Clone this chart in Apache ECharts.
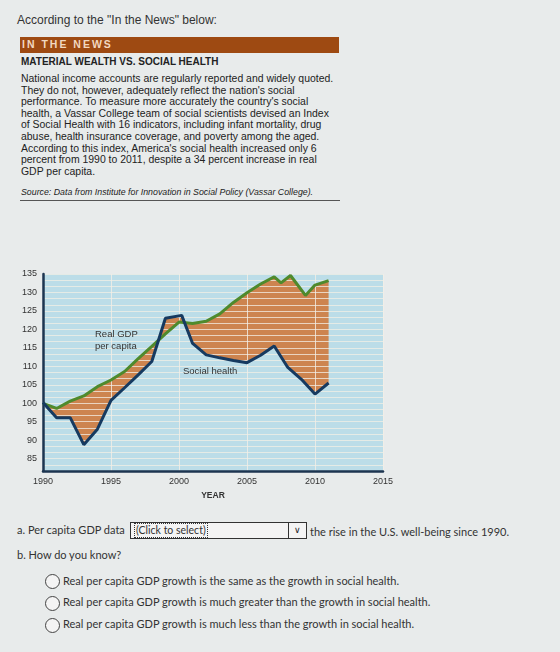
<!DOCTYPE html>
<html>
<head>
<meta charset="utf-8">
<script src="https://cdn.jsdelivr.net/npm/echarts@6/dist/echarts.min.js"></script>
<style>
  body { margin: 0; width: 560px; height: 652px; background: #e8ebeb; position: relative; overflow: hidden;
         font-family: "Liberation Sans", Arial, sans-serif; color: #222; }
  .abs { position: absolute; white-space: nowrap; }
  #intro { left: 17px; top: 13px; font-size: 12px; color: #333; }
  #bar { left: 20px; top: 37px; width: 319px; height: 16px; background: #9e4a12; }
  #bar span { position: absolute; left: 2px; top: 1px; font-size: 10.5px; color: #f2d8c0; letter-spacing: 2px; font-weight: bold; }
  #title { left: 21px; top: 56px; font-size: 10px; font-weight: bold; color: #222; }
  #para { left: 21px; top: 73px; font-size: 10.45px; line-height: 11.6px; color: #222; }
  #src { left: 21px; top: 187px; font-size: 8.8px; font-style: italic; color: #222; }
  #rule { left: 20px; top: 200px; width: 320px; height: 1px; background: #555; }
  #chart { left: 0; top: 255px; width: 400px; height: 250px; }
  .q { font-family: Lato, "Open Sans", sans-serif; font-size: 11px; color: #333; }
  #qa { left: 17px; top: 523px; }
  #sel { left: 130px; top: 522px; width: 175px; height: 15px; border: 1px solid #333; background: #f4f4f4; }
  #sel span { position: absolute; left: 3px; top: 0px; font-size: 10.5px; border: 1px dotted #333; padding: 0 1px; line-height: 13px; }
  #sel i { position: absolute; right: 0; top: 0; width: 17px; height: 15px; border-left: 1px solid #333; font-style: normal; font-size: 9px; text-align: center; line-height: 15px; }
  #qa2 { left: 310px; top: 525px; }
  #qb { left: 17px; top: 548px; }
  .radio { width: 13px; height: 13px; border: 1px solid #444; border-radius: 50%; background: #f4f4f4; }
</style>
</head>
<body>
<div class="abs" id="intro">According to the "In the News" below:</div>
<div class="abs" id="bar"><span>IN THE NEWS</span></div>
<div class="abs" id="title">MATERIAL WEALTH VS. SOCIAL HEALTH</div>
<div class="abs" id="para">National income accounts are regularly reported and widely quoted.<br>They do not, however, adequately reflect the nation's social<br>performance. To measure more accurately the country's social<br>health, a Vassar College team of social scientists devised an Index<br>of Social Health with 16 indicators, including infant mortality, drug<br>abuse, health insurance coverage, and poverty among the aged.<br>According to this index, America's social health increased only 6<br>percent from 1990 to 2011, despite a 34 percent increase in real<br>GDP per capita.</div>
<div class="abs" id="src">Source: Data from Institute for Innovation in Social Policy (Vassar College).</div>
<div class="abs" id="rule"></div>
<div class="abs" id="chart"></div>
<div class="abs q" id="qa">a. Per capita GDP data</div>
<div class="abs" id="sel"><span class="q">(Click to select)</span><i>&#8744;</i></div>
<div class="abs q" id="qa2">the rise in the U.S. well-being since 1990.</div>
<div class="abs q" id="qb">b. How do you know?</div>
<div class="abs radio" style="left:45px;top:574px"></div>
<div class="abs q" style="left:63px;top:574px">Real per capita GDP growth is the same as the growth in social health.</div>
<div class="abs radio" style="left:45px;top:596px"></div>
<div class="abs q" style="left:63px;top:595px">Real per capita GDP growth is much greater than the growth in social health.</div>
<div class="abs radio" style="left:45px;top:618px"></div>
<div class="abs q" style="left:63px;top:617px">Real per capita GDP growth is much less than the growth in social health.</div>
<script>
// 数据
var gdpYears = [1990, 1991, 1992, 1993, 1994, 1995, 1996, 1997, 1998, 1999, 2000, 2001, 2002, 2003, 2004, 2005, 2006, 2007, 2007.5, 2008.2, 2009.3, 2010, 2011];
var gdpValues = [100, 98.6, 100.6, 102, 104.5, 106.3, 108.6, 112.1, 115.4, 118.8, 122, 121.6, 122.2, 124.2, 127.3, 129.9, 132.3, 134.2, 132.6, 134.6, 129.2, 132, 133.2];
var shYears = [1990, 1991, 1992, 1993, 1994, 1995, 1996, 1997, 1998, 1999, 2000.2, 2001, 2002, 2003, 2004, 2005, 2006, 2007, 2008, 2009, 2010, 2011];
var shValues = [100.2, 96.1, 96.1, 88.8, 93, 100.8, 104.2, 107.7, 111.3, 123, 123.8, 116.2, 113.1, 112.3, 111.6, 111, 113, 115.5, 109.7, 106.5, 102.5, 105.5];
var yearTicks = [1990, 1995, 2000, 2005, 2010, 2015];

var gdpData = gdpYears.map(function (y, i) { return [y, gdpValues[i]]; });
var shData = shYears.map(function (y, i) { return [y, shValues[i]]; });

var chart = echarts.init(document.getElementById('chart'));
chart.setOption({
  animation: false,
  grid: {
    left: 43, right: 17, top: 19, bottom: 32,
    show: true, backgroundColor: '#bcdde8', borderWidth: 0
  },
  xAxis: {
    type: 'value', min: 1990, max: 2015, interval: 5, z: 3,
    name: 'YEAR', nameLocation: 'middle', nameGap: 20,
    nameTextStyle: { fontSize: 8.5, fontWeight: 'bold', color: '#333', fontFamily: 'Liberation Sans' },
    axisLine: { lineStyle: { color: '#1c3550', width: 2.5 } },
    axisTick: { show: false },
    axisLabel: { fontSize: 9, color: '#333', margin: 6, fontFamily: 'Liberation Sans',
      formatter: function (v) { return yearTicks.indexOf(v) >= 0 ? String(v) : ''; } },
    splitLine: { show: true, lineStyle: { color: '#f3efe6', width: 1, opacity: 0.8 } }
  },
  yAxis: {
    // 横向条纹每 5/3 一条, 标签只显示 5 的倍数
    type: 'value', min: 245 / 3, max: 135, interval: 5 / 3, z: 3,
    axisLine: { show: true, lineStyle: { color: '#1c3550', width: 2.5 } },
    axisTick: { show: false },
    axisLabel: { fontSize: 9, color: '#333', margin: 6, fontFamily: 'Liberation Sans',
      formatter: function (v) {
        var r = Math.round(v / 5);
        return Math.abs(v / 5 - r) < 0.01 ? String(r * 5) : '';
      } },
    splitLine: { show: true, lineStyle: { color: '#f3efe6', width: 1, opacity: 0.75 } }
  },
  graphic: [
    { type: 'text', left: 95, top: 73, z: 10, style: { text: 'Real GDP\nper capita', fontSize: 9.5, lineHeight: 12, fill: '#333', fontFamily: 'Liberation Sans' } },
    { type: 'text', left: 183, top: 111, z: 10, style: { text: 'Social health', fontSize: 9.5, fill: '#333', fontFamily: 'Liberation Sans' } }
  ],
  series: [
    {
      // 两线之间的填充
      type: 'custom', z: 1, silent: true,
      data: [0],
      renderItem: function (params, api) {
        var pts = [];
        for (var i = 0; i < gdpData.length; i++) pts.push(api.coord(gdpData[i]));
        for (var j = shData.length - 1; j >= 0; j--) pts.push(api.coord(shData[j]));
        return { type: 'polygon', shape: { points: pts }, style: { fill: '#cd844f' } };
      }
    },
    {
      name: 'Real GDP per capita', type: 'line', z: 5, data: gdpData,
      symbol: 'none', lineStyle: { color: '#4f8a2c', width: 3 }
    },
    {
      name: 'Social health', type: 'line', z: 5, data: shData,
      symbol: 'none', lineStyle: { color: '#163a60', width: 3 }
    }
  ]
});
</script>
</body>
</html>
